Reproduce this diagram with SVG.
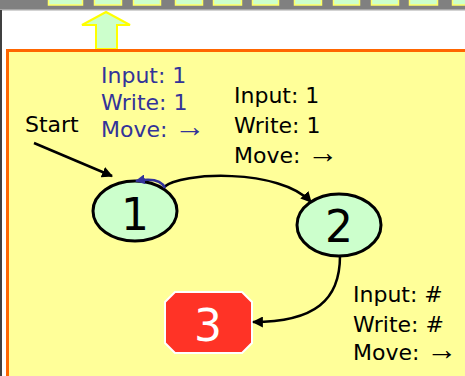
<svg xmlns="http://www.w3.org/2000/svg" width="465" height="376" viewBox="0 0 465 376">
  <style>
    .tape { fill: #ccffcc; stroke: #ffff66; stroke-width: 1.5; }
    .state { fill: #ccffcc; stroke: #000000; stroke-width: 3; }
    .num { font-family: "DejaVu Sans", Verdana, sans-serif; font-size: 44px; fill: #000000; text-anchor: middle; }
    .lbl { font-family: "DejaVu Sans", Verdana, sans-serif; font-size: 22px; fill: #000000; }
    .arr { font-family: "Liberation Serif", "DejaVu Serif", serif; font-size: 31px; }
    .blue { fill: #333399; }
    .edge { fill: none; stroke: #000000; stroke-width: 2.5; }
  </style>
  <defs>
    <marker id="head" viewBox="0 0 10 10" refX="9" refY="5" markerWidth="4.4" markerHeight="4.4" orient="auto" markerUnits="strokeWidth">
      <path d="M0,0 L10,5 L0,10 z" fill="#000000"/>
    </marker>
    <marker id="headBlue" viewBox="0 0 10 10" refX="9" refY="5" markerWidth="4" markerHeight="4" orient="auto" markerUnits="strokeWidth">
      <path d="M0,0 L10,5 L0,10 z" fill="#333399"/>
    </marker>
  </defs>

  <!-- page background -->
  <rect x="0" y="0" width="465" height="376" fill="#ffffff"/>

  <!-- tape strip along the top -->
  <g id="tape">
    <rect x="0" y="0" width="465" height="9" fill="#808080"/>
    <rect x="0" y="9" width="465" height="1.5" fill="#a8a8a8"/>
    <rect class="tape" x="48.5" y="-2" width="34" height="7"/>
    <rect class="tape" x="94.5" y="-2" width="27" height="7"/>
    <rect class="tape" x="133.5" y="-2" width="27" height="7"/>
    <rect class="tape" x="175.5" y="-2" width="27" height="7"/>
    <rect class="tape" x="213.5" y="-2" width="28" height="7"/>
    <rect class="tape" x="252.5" y="-2" width="26" height="7"/>
    <rect class="tape" x="294.5" y="-2" width="27" height="7"/>
    <rect class="tape" x="333.5" y="-2" width="26" height="7"/>
    <rect class="tape" x="371.5" y="-2" width="27" height="7"/>
    <rect class="tape" x="409.5" y="-2" width="28" height="7"/>
    <rect class="tape" x="452.5" y="-2" width="20" height="7"/>
  </g>

  <!-- left frame edge -->
  <rect x="0" y="10" width="2" height="366" fill="#404040"/>

  <!-- head pointer arrow -->
  <g id="head-pointer">
    <polygon points="106,12 130,25 117,25 117,49 96,49 96,25 82,25" fill="#ccffcc" stroke="#ffff00" stroke-width="2"/>
  </g>

  <!-- machine panel -->
  <rect x="7.5" y="50.5" width="470" height="340" fill="#ffff99" stroke="#ff6600" stroke-width="3"/>

  <!-- transition labels -->
  <g id="label-loop">
    <text class="lbl blue" x="101" y="83">Input: 1</text>
    <text class="lbl blue" x="101" y="110">Write: 1</text>
    <text class="lbl blue" x="101" y="137">Move: <tspan class="arr">→</tspan></text>
  </g>
  <g id="label-1-2">
    <text class="lbl" x="234" y="103">Input: 1</text>
    <text class="lbl" x="234" y="133">Write: 1</text>
    <text class="lbl" x="234" y="163">Move: <tspan class="arr">→</tspan></text>
  </g>
  <g id="label-2-3">
    <text class="lbl" x="353" y="302">Input: #</text>
    <text class="lbl" x="353" y="332">Write: #</text>
    <text class="lbl" x="353" y="360">Move: <tspan class="arr">→</tspan></text>
  </g>
  <g id="label-start">
    <text class="lbl" x="25" y="132">Start</text>
  </g>

  <!-- states -->
  <g id="state-1">
    <ellipse class="state" cx="135" cy="211" rx="42" ry="30"/>
    <text class="num" x="135" y="230">1</text>
  </g>
  <g id="state-2">
    <ellipse class="state" cx="339" cy="225" rx="42" ry="31"/>
    <text class="num" x="339" y="242">2</text>
  </g>
  <g id="state-3">
    <polygon points="175,292 242,292 252,302 252,343 242,353 175,353 165,343 165,302" fill="#ff3326" stroke="#ffffff" stroke-width="2"/>
    <text class="num" x="208" y="341" style="fill:#ffffff">3</text>
  </g>

  <!-- connectors -->
  <g id="connectors">
    <path class="edge" d="M34,143 L112,176" marker-end="url(#head)"/>
    <path class="edge" d="M164,187 C180,172 280,168 311,202" marker-end="url(#head)"/>
    <path class="edge" d="M340,256 C340,300 315,322 253,322" marker-end="url(#head)"/>
    <path d="M165,188 C162,181 152,178 136,181" fill="none" stroke="#333399" stroke-width="2.5" marker-end="url(#headBlue)"/>
  </g>
</svg>
